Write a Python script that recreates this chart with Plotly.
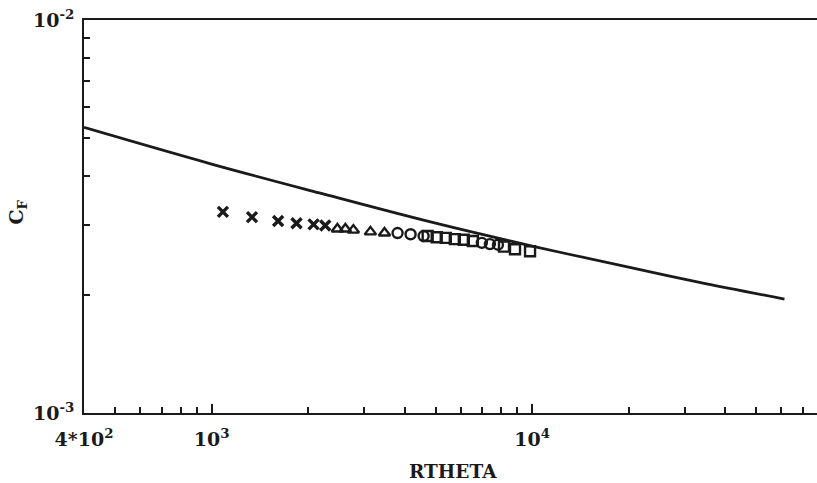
import plotly.graph_objects as go

# Skin-friction coefficient versus momentum-thickness Reynolds number
# Reference correlation curve
curve_rtheta = [400, 1000, 2170, 5000, 10000, 20000, 33300, 61300]
curve_cf = [5.33e-3, 4.30e-3, 3.63e-3, 3.04e-3, 2.66e-3, 2.35e-3, 2.15e-3, 1.95e-3]

# Measured data sets
x_rtheta = [1085, 1337, 1613, 1841, 2081, 2263]
x_cf = [3.25e-3, 3.15e-3, 3.08e-3, 3.04e-3, 3.02e-3, 3.00e-3]

tri_rtheta = [2469, 2615, 2770, 3131, 3464]
tri_cf = [2.94e-3, 2.94e-3, 2.92e-3, 2.89e-3, 2.87e-3]

circ_rtheta = [3805, 4178, 4588, 6972, 7386, 7826]
circ_cf = [2.87e-3, 2.85e-3, 2.82e-3, 2.71e-3, 2.69e-3, 2.68e-3]

sq_rtheta = [4724, 5041, 5379, 5741, 6124, 6535, 8173, 8846, 9855]
sq_cf = [2.82e-3, 2.80e-3, 2.79e-3, 2.77e-3, 2.76e-3, 2.74e-3, 2.65e-3, 2.61e-3, 2.58e-3]

# Axis ticks
x_major = [400, 1000, 10000]
x_major_text = ["4*10<sup>2</sup>", "10<sup>3</sup>", "10<sup>4</sup>"]
x_minor = [500, 600, 700, 800, 900,
           2000, 3000, 4000, 5000, 6000, 7000, 8000, 9000,
           20000, 30000, 40000, 50000, 60000, 70000, 80000]
y_major = [1e-3, 1e-2]
y_major_text = ["10<sup>-3</sup>", "10<sup>-2</sup>"]
y_minor = [2e-3, 3e-3, 4e-3, 5e-3, 6e-3, 7e-3, 8e-3, 9e-3]

ink = "#1a1a1a"
serif = "DejaVu Serif"
label_font = dict(family=serif, size=19, color=ink, weight=700)

fig = go.Figure()
fig.add_trace(go.Scatter(x=curve_rtheta, y=curve_cf, mode="lines",
                         line=dict(color=ink, width=2.8, shape="spline", smoothing=1.0),
                         showlegend=False))
marker_line = dict(color=ink, width=2.4)
fig.add_trace(go.Scatter(x=x_rtheta, y=x_cf, mode="markers", showlegend=False,
                         marker=dict(symbol="x-thin", size=10, line=dict(color=ink, width=3.4))))
fig.add_trace(go.Scatter(x=tri_rtheta, y=tri_cf, mode="markers", showlegend=False,
                         marker=dict(symbol="triangle-up-open", size=10, color=ink, line=marker_line)))
fig.add_trace(go.Scatter(x=circ_rtheta, y=circ_cf, mode="markers", showlegend=False,
                         marker=dict(symbol="circle-open", size=10, color=ink, line=marker_line)))
fig.add_trace(go.Scatter(x=sq_rtheta, y=sq_cf, mode="markers", showlegend=False,
                         marker=dict(symbol="square-open", size=10, color=ink, line=marker_line)))

fig.update_layout(
    width=817, height=483,
    margin=dict(l=84, r=0, t=20, b=70),
    paper_bgcolor="white", plot_bgcolor="white",
    font=dict(family=serif, color=ink, size=18),
    xaxis=dict(type="log", range=[2.602, 4.889], showgrid=False, zeroline=False,
               showline=True, linecolor=ink, linewidth=2, mirror=True,
               tickmode="array", tickvals=x_major, ticktext=x_major_text,
               ticks="inside", ticklen=9, tickwidth=2, tickcolor=ink,
               ticklabelstandoff=8, tickfont=label_font,
               minor=dict(tickvals=x_minor, ticks="inside", ticklen=6,
                          tickwidth=2, tickcolor=ink, showgrid=False)),
    yaxis=dict(type="log", range=[-3, -2], showgrid=False, zeroline=False,
               showline=True, linecolor=ink, linewidth=2, mirror=False,
               tickmode="array", tickvals=y_major, ticktext=y_major_text,
               ticks="inside", ticklen=9, tickwidth=2, tickcolor=ink,
               ticklabelstandoff=4, tickfont=label_font,
               minor=dict(tickvals=y_minor, ticks="inside", ticklen=6,
                          tickwidth=2, tickcolor=ink, showgrid=False)),
    annotations=[
        dict(text="RTHETA", xref="paper", yref="paper", x=0.503, y=-0.150,
             xanchor="center", yanchor="middle", showarrow=False,
             font=dict(family=serif, size=18.5, color=ink, weight=700)),
        dict(text="C<sub>F</sub>", xref="paper", yref="paper",
             x=-0.09, y=0.51, xanchor="center", yanchor="middle", showarrow=False,
             textangle=-90, font=dict(family=serif, size=19, color=ink, weight=700)),
    ],
)

fig.write_html("out.html")
